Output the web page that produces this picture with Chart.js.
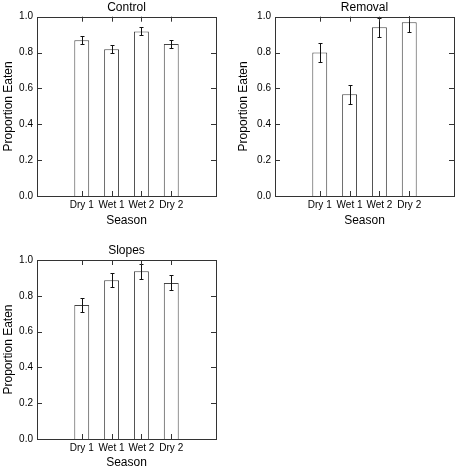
<!DOCTYPE html>
<html>
<head>
  <meta charset="UTF-8">
  <title>Proportion Eaten by Season</title>
  <script src="https://cdn.jsdelivr.net/npm/chart.js"></script>
  <style>
    body {
      margin: 0;
      width: 455px;
      height: 470px;
      overflow: hidden;
      background: #fff;
    }
    canvas {
      position: absolute;
    }
  </style>
</head>
<body>
  <canvas id="controlChart" width="225" height="230" style="left:0;top:0"></canvas>
  <canvas id="removalChart" width="220" height="230" style="left:235px;top:0"></canvas>
  <canvas id="slopesChart" width="225" height="227" style="left:0;top:243px"></canvas>

  <script>
    const seasons = ['Dry 1', 'Wet 1', 'Wet 2', 'Dry 2'];
    const yTicks = [0, 0.2, 0.4, 0.6, 0.8, 1.0];

    const controlMean = [0.868, 0.818, 0.918, 0.848];
    const controlErr = [0.023, 0.022, 0.022, 0.022];

    const removalMean = [0.801, 0.567, 0.941, 0.969];
    const removalErr = [0.052, 0.052, 0.053, 0.053];

    const slopesMean = [0.748, 0.887, 0.937, 0.872];
    const slopesErr = [0.040, 0.040, 0.043, 0.042];

    const FONT = 'Liberation Sans, Arial, Helvetica, sans-serif';

    // box round the plot + short inward ticks on all four sides
    const frame = {
      id: 'frame',
      afterDraw(chart) {
        const { ctx, chartArea: a, scales } = chart;
        const len = 5;
        ctx.save();
        ctx.strokeStyle = '#333';
        ctx.lineWidth = 1;
        ctx.strokeRect(Math.round(a.left) + 0.5, Math.round(a.top) + 0.5,
          Math.round(a.right - a.left), Math.round(a.bottom - a.top));
        ctx.beginPath();
        seasons.forEach((_, i) => {
          const x = Math.round(scales.x.getPixelForValue(i + 1)) + 0.5;
          ctx.moveTo(x, a.top); ctx.lineTo(x, a.top + len);
          ctx.moveTo(x, a.bottom); ctx.lineTo(x, a.bottom - len);
        });
        yTicks.forEach(v => {
          const y = Math.round(scales.y.getPixelForValue(v)) + 0.5;
          ctx.moveTo(a.left, y); ctx.lineTo(a.left + len, y);
          ctx.moveTo(a.right, y); ctx.lineTo(a.right - len, y);
        });
        ctx.stroke();
        ctx.restore();
      }
    };

    // standard error bars, read from dataset.err
    const errorBars = {
      id: 'errorBars',
      afterDatasetsDraw(chart) {
        const { ctx, chartArea: a, scales } = chart;
        const ds = chart.data.datasets[0];
        ctx.save();
        ctx.beginPath();
        ctx.rect(a.left, a.top - 0.5, a.right - a.left, a.bottom - a.top);
        ctx.clip();
        ctx.strokeStyle = '#111';
        ctx.lineWidth = 1;
        ctx.beginPath();
        ds.data.forEach((p, i) => {
          const x = Math.round(scales.x.getPixelForValue(p.x)) + 0.5;
          const hi = Math.round(scales.y.getPixelForValue(p.y + ds.err[i])) + 0.5;
          const lo = Math.round(scales.y.getPixelForValue(p.y - ds.err[i])) + 0.5;
          ctx.moveTo(x, hi); ctx.lineTo(x, lo);
          ctx.moveTo(x - 2, hi); ctx.lineTo(x + 2, hi);
          ctx.moveTo(x - 2, lo); ctx.lineTo(x + 2, lo);
        });
        ctx.stroke();
        ctx.restore();
      }
    };

    function makePanel(id, title, means, errs, opt) {
      new Chart(document.getElementById(id), {
        type: 'bar',
        data: {
          datasets: [{
            data: means.map((v, i) => ({ x: i + 1, y: v })),
            err: errs,
            backgroundColor: '#fff',
            borderColor: '#444',
            borderWidth: 1,
            categoryPercentage: 1,
            barPercentage: 0.5
          }]
        },
        options: {
          responsive: false,
          animation: false,
          layout: { padding: { right: opt.right, top: 0, bottom: 0, left: 0 } },
          plugins: {
            legend: { display: false },
            tooltip: { enabled: false },
            title: {
              display: true,
              text: title,
              fullSize: false,
              color: '#000',
              font: { family: FONT, size: 12, weight: 'normal' },
              padding: { top: 0, bottom: opt.titleGap }
            }
          },
          scales: {
            x: {
              type: 'linear',
              min: 0,
              max: 5,
              afterFit(s) { s.height = opt.xHeight; },
              grid: { display: false, drawTicks: false },
              border: { display: false },
              ticks: {
                stepSize: 1,
                padding: 3,
                autoSkip: false,
                maxRotation: 0,
                minRotation: 0,
                color: '#000',
                font: { family: FONT, size: 10 },
                callback: v => seasons[v - 1] || ''
              },
              title: {
                display: true,
                text: 'Season',
                color: '#000',
                font: { family: FONT, size: 12 },
                padding: { top: 0, bottom: opt.seasonGap }
              }
            },
            y: {
              min: 0,
              max: 1,
              afterFit(s) { s.width = opt.yWidth; },
              grid: { display: false, drawTicks: false },
              border: { display: false },
              ticks: {
                stepSize: 0.2,
                padding: 4,
                color: '#000',
                font: { family: FONT, size: 10 },
                callback: v => v.toFixed(1)
              },
              title: {
                display: true,
                text: 'Proportion Eaten',
                color: '#000',
                font: { family: FONT, size: 12 },
                padding: { top: 1, bottom: 0 }
              }
            }
          }
        },
        plugins: [errorBars, frame]
      });
    }

    makePanel('controlChart', 'Control', controlMean, controlErr,
      { right: 9, yWidth: 37, xHeight: 34, titleGap: 2.3, seasonGap: 2 });
    makePanel('removalChart', 'Removal', removalMean, removalErr,
      { right: 1, yWidth: 40, xHeight: 34, titleGap: 2.3, seasonGap: 2 });
    makePanel('slopesChart', 'Slopes', slopesMean, slopesErr,
      { right: 9, yWidth: 37, xHeight: 31, titleGap: 2.6, seasonGap: 0 });
  </script>
</body>
</html>
